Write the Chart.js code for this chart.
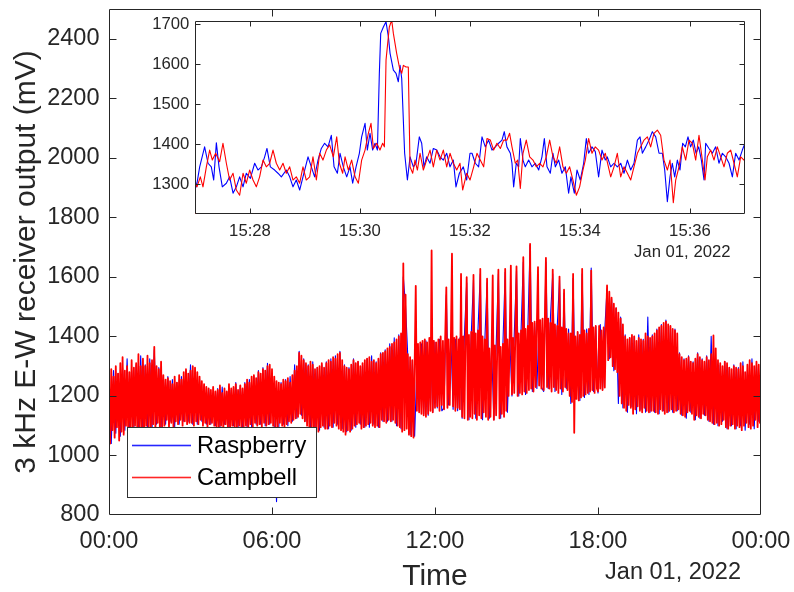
<!DOCTYPE html>
<html><head><meta charset="utf-8">
<script src="https://cdn.jsdelivr.net/npm/chart.js@4.4.1/dist/chart.umd.min.js"></script>
<style>
html,body{margin:0;padding:0;background:#fff;}
#wrap{position:relative;width:794px;height:592px;overflow:hidden;}
#wrap canvas{position:absolute;left:0;top:0;}
</style></head><body>
<div id="wrap"><canvas id="main" width="794" height="592"></canvas><canvas id="inset" width="794" height="592"></canvas></div>
<script>
// ---------------- data ----------------
const seriesNames = ['Raspberry', 'Campbell'];
const dateLabel = 'Jan 01, 2022';
const raspberryStepMinutes = 5;   // Raspberry: one value every 5 min, 00:00 .. 24:00
const campbellStepMinutes = 2.5;  // Campbell: one value every 2.5 min, 00:00 .. 24:00

const raspberryMain = [
 1255,1040,1285,1075,1275,1065,1295,1085,1325,1075,1285,1095,
 1305,1085,1335,1065,1305,1095,1325,1085,1355,1105,1295,1085,
 1265,1105,1265,1115,1255,1095,1245,1105,1265,1115,1285,1115,
 1305,1105,1275,1105,1255,1115,1235,1105,1225,1105,1210,1100,
 1225,1095,1230,1105,1215,1090,1220,1100,1245,1095,1235,1095,
 1245,1095,1255,1095,1265,1105,1285,1105,1295,1100,1310,1105,
 1275,1095,845,1095,1245,1105,1255,1100,1265,1115,1305,1125,
 1350,1135,1325,1115,1305,1095,1315,1090,1295,1085,1305,1095,
 1315,1090,1325,1095,1335,1105,1350,1090,1305,1080,1295,1085,
 1325,1095,1315,1105,1305,1095,1325,1095,1335,1105,1315,1095,
 1345,1115,1355,1115,1375,1115,1395,1100,1405,1090,1600,1500,
 1330,1070,1320,1065,1300,1150,1375,1140,1385,1135,1390,1145,
 1380,1160,1390,1150,1160,1540,1170,1395,1155,1390,1150,1395,
 1125,1405,1580,1120,1405,1590,1125,1425,1610,1120,1385,1580,
 1125,1360,1120,1365,1610,1125,1375,1615,1145,1395,1200,1405,
 1620,1200,1415,1650,1205,1425,1706,1215,1445,1225,1455,1230,
 1215,1650,1225,1465,1610,1215,1435,1590,1205,1545,1225,1425,
 1175,1595,1190,1415,1185,1610,1195,1425,1205,1630,1215,1435,
 1210,1440,1220,1425,1560,1325,1525,1285,1495,1175,1465,1160,
 1405,1145,1395,1165,1400,1140,1405,1155,1390,1145,1465,1145,
 1405,1145,1425,1140,1440,1150,1455,1145,1435,1145,1425,1150,
 1345,1135,1325,1125,1335,1145,1315,1120,1345,1125,1325,1135,
 1335,1115,1400,1105,1325,1100,1305,1115,1315,1090,1295,1100,
 1305,1090,1295,1100,1315,1085,1285,1105,1325,1090,1305,1115,
 1315
];

const campbellMain = [
 1250,1040,1290,1085,1265,1060,1300,1095,1275,1050,1310,1080,1330,1070,1285,1100,1300,1065,1280,1090,1320,1075,1295,1100,
 1310,1080,1340,1065,1300,1095,1325,1060,1300,1100,1335,1085,1310,1090,1320,1105,1365,1085,1300,1110,1290,1080,1315,1095,
 1270,1100,1255,1120,1260,1095,1250,1110,1240,1090,1265,1115,1245,1105,1270,1120,1255,1100,1280,1115,1290,1105,1275,1110,
 1285,1110,1300,1100,1295,1115,1280,1105,1265,1120,1250,1100,1240,1110,1230,1095,1225,1105,1220,1110,1230,1100,1215,1095,
 1220,1090,1235,1100,1210,1085,1225,1105,1215,1095,1240,1090,1225,1100,1230,1085,1240,1095,1220,1100,1235,1090,1225,1095,
 1240,1100,1255,1090,1245,1105,1265,1095,1270,1110,1260,1100,1280,1105,1275,1095,1290,1110,1285,1100,1300,1105,1305,1110,
 1290,1100,1265,1095,1250,1090,1245,1110,1240,1100,1255,1095,1250,1105,1260,1115,1245,1110,1270,1120,1285,1125,1300,1130,
 1345,1140,1335,1125,1320,1115,1310,1100,1300,1095,1315,1085,1305,1080,1290,1090,1295,1080,1300,1095,1310,1100,1295,1090,
 1310,1090,1320,1100,1315,1095,1330,1110,1325,1100,1340,1090,1345,1085,1320,1080,1300,1070,1295,1085,1290,1080,1305,1090,
 1320,1100,1310,1105,1315,1110,1300,1090,1310,1095,1320,1100,1325,1105,1330,1110,1315,1100,1320,1095,1310,1100,1325,1095,
 1340,1120,1345,1115,1350,1110,1360,1120,1365,1115,1375,1120,1380,1110,1390,1100,1400,1095,1410,1080,1645,1085,1540,1090,
 1340,1070,1330,1065,1320,1060,1300,1570,1150,1375,1145,1380,1140,1385,1135,1390,1130,1380,1140,1395,1150,1689,1145,1385,
 1160,1380,1165,1390,1150,1400,1170,1385,1155,1395,1565,1160,1390,1170,1385,1678,1165,1395,1150,1400,1160,1390,1155,1610,
 1130,1400,1125,1410,1599,1120,1405,1130,1415,1125,1607,1140,1410,1120,1420,1135,1627,1125,1400,1145,1390,1130,1594,1120,
 1360,1130,1350,1605,1120,1370,1135,1355,1624,1125,1365,1140,1375,1130,1627,1150,1390,1200,1400,1638,1205,1395,1210,1405,
 1635,1200,1410,1210,1420,1205,1666,1215,1425,1210,1435,1220,1711,1225,1445,1215,1450,1230,1440,1633,1235,1455,1225,1460,
 1220,1450,1664,1230,1460,1225,1445,1215,1624,1230,1440,1220,1435,1210,1601,1225,1430,1215,1557,1230,1425,1220,1410,1200,
 1410,1180,1610,1076,1400,1190,1415,1185,1405,1195,1627,1200,1420,1205,1410,1210,1425,1215,1621,1220,1430,1210,1435,1225,
 1215,1435,1225,1420,1220,1430,1228,1425,1571,1320,1550,1330,1530,1300,1510,1290,1495,1280,1480,1200,1460,1175,1440,1160,
 1400,1150,1390,1170,1395,1160,1405,1140,1400,1155,1385,1165,1395,1150,1390,1145,1385,1160,1410,1150,1400,1145,1395,1150,
 1400,1150,1410,1145,1420,1140,1430,1155,1435,1150,1445,1140,1450,1145,1440,1150,1435,1155,1425,1145,1420,1150,1410,1155,
 1340,1140,1330,1135,1320,1130,1325,1145,1330,1150,1315,1140,1310,1120,1325,1135,1340,1130,1330,1125,1320,1140,1315,1135,
 1330,1120,1320,1115,1340,1110,1403,1105,1360,1110,1320,1100,1310,1105,1300,1120,1315,1095,1310,1090,1295,1100,1290,1105,
 1300,1090,1295,1100,1290,1095,1310,1085,1300,1100,1280,1110,1305,1095,1320,1090,1310,1100,1300,1120,1315,1095,1305,1110,
 1310
];

const mainXTicks = [0, 6, 12, 18, 24];            // hours
const mainXTickLabels = ['00:00', '06:00', '12:00', '18:00', '00:00'];
const mainYTicks = [800, 1000, 1200, 1400, 1600, 1800, 2000, 2200, 2400];

// inset: seconds after 15:27:00
const insetRaspberryT = [
 0,1.5,5.1,10.5,14.2,17.8,20.4,23.3,26.2,29.8,34.2,37.8,41.5,45.1,48.7,52.4,56.0,60.4,65.1,68.7,
 72.4,76.0,78.5,82.2,86.9,90.5,94.2,99.6,103.3,106.9,110.5,114.2,117.8,123.3,126.9,130.5,134.2,137.8,141.4,145.1,
 148.7,151.7,155.3,158.2,161.8,165.5,169.1,172.0,175.7,179.3,181.8,185.5,188.0,190.9,193.8,196.4,199.0,201.1,202.6,205.5,
 208.4,211.0,212.8,216.4,219.3,221.8,223.7,225.5,228.7,231.7,234.6,238.2,241.1,244.7,247.3,249.8,252.7,256.4,260.0,263.7,
 267.3,270.9,274.6,278.2,281.8,284.7,288.4,292.7,296.4,300.0,302.2,305.8,309.4,313.1,316.7,320.3,324.0,327.6,331.2,334.9,
 337.4,340.3,344.0,345.8,347.6,350.5,353.1,354.9,357.8,360.3,364.0,367.6,371.2,374.9,378.5,381.1,384.0,387.6,390.5,393.1,
 396.7,400.3,404.0,407.6,410.1,413.8,416.7,420.3,424.0,426.9,429.4,433.1,436.7,440.3,444.0,447.6,449.8,453.5,457.1,460.7,
 464.4,468.0,471.7,475.3,478.9,482.6,485.5,488.0,491.7,495.3,498.9,502.6,506.2,509.8,512.4,515.3,518.2,520.7,523.3,526.2,
 529.1,532.0,534.9,537.8,540.7,543.6,546.6,549.5,552.4,555.3,557.1,560.7,564.4,568.0,571.6,575.3,578.9,582.6,586.2,589.8,
 593.5,597.1,600
];
const insetRaspberryV = [
 1312,1293,1343,1393,1352,1343,1310,1403,1343,1293,1302,1318,1277,1293,1318,1293,1327,1314,1352,1335,
 1343,1368,1389,1343,1335,1327,1318,1335,1318,1293,1310,1285,1318,1368,1343,1318,1360,1389,1402,1393,
 1422,1343,1327,1377,1343,1318,1343,1302,1343,1377,1418,1452,1385,1427,1385,1402,1385,1577,1677,1693,
 1706,1668,1627,1585,1577,1556,1597,1564,1377,1310,1368,1343,1352,1418,1402,1343,1368,1352,1389,1385,
 1368,1360,1377,1343,1360,1293,1327,1343,1310,1377,1377,1352,1343,1418,1393,1410,1385,1393,1402,1410,
 1431,1393,1377,1352,1293,1352,1343,1414,1360,1343,1360,1343,1352,1335,1368,1414,1343,1327,1377,1343,
 1360,1327,1343,1277,1318,1277,1335,1310,1352,1414,1377,1393,1381,1318,1385,1360,1368,1343,1352,1343,
 1352,1327,1360,1335,1352,1410,1418,1377,1393,1410,1431,1418,1377,1377,1335,1256,1318,1352,1318,1360,
 1335,1402,1393,1418,1393,1410,1377,1393,1360,1310,1402,1389,1377,1393,1352,1377,1368,1352,1318,1377,
 1360,1385,1402
];
const insetCampbellT = [
 0,0.5,2.2,5.8,8.7,12.4,16.0,18.9,22.5,26.9,30.5,34.2,37.8,41.5,45.1,48.7,52.4,56.0,59.6,63.3,
 66.9,70.5,74.2,77.8,81.5,85.1,88.7,92.4,96.0,99.6,103.3,106.9,110.5,114.2,117.8,121.4,125.1,128.7,132.4,136.0,
 139.6,143.3,146.9,150.9,154.6,157.5,161.1,163.7,167.3,170.9,174.6,178.2,181.8,185.5,189.1,192.0,194.6,198.2,201.8,204.7,
 206.6,208.4,212.0,214.6,216.4,220.0,222.9,225.5,227.3,230.2,232.7,234.6,237.5,240.0,242.6,245.5,249.1,252.7,256.4,260.0,
 263.7,267.3,270.9,274.6,278.2,281.8,285.5,289.1,292.0,296.4,300.0,304.0,307.6,311.2,314.9,318.5,322.2,325.8,329.4,333.1,
 336.7,340.3,343.2,345.8,349.4,352.0,354.9,357.8,361.4,365.1,368.7,372.3,376.0,379.6,383.2,386.9,390.5,394.1,397.8,401.4,
 405.1,408.7,412.3,416.0,419.6,423.2,425.8,429.4,433.1,436.7,440.3,444.0,447.6,453.5,457.1,460.7,464.4,468.0,471.7,475.3,
 478.9,482.6,486.2,489.8,493.5,497.1,500.7,504.4,508.0,511.6,515.3,518.2,521.8,524.4,528.0,531.6,535.3,538.9,542.6,546.2,
 549.8,553.5,556.4,558.9,562.6,566.2,569.8,573.5,577.1,580.7,584.4,588.0,591.6,595.3,598.9,600
];
const insetCampbellV = [
 1227,1302,1293,1318,1293,1343,1385,1360,1377,1356,1402,1352,1310,1327,1285,1272,1327,1302,1335,1310,
 1293,1318,1360,1343,1352,1385,1352,1335,1352,1327,1343,1310,1318,1302,1343,1310,1318,1368,1310,1377,
 1360,1385,1398,1368,1418,1352,1327,1368,1335,1360,1318,1302,1360,1385,1427,1452,1389,1402,1385,1402,
 1393,1610,1693,1710,1677,1627,1593,1577,1597,1593,1593,1343,1327,1360,1335,1377,1335,1360,1385,1343,
 1385,1360,1385,1343,1377,1352,1335,1352,1285,1327,1310,1343,1377,1360,1343,1414,1410,1385,1402,1389,
 1410,1410,1427,1393,1352,1360,1289,1377,1410,1368,1360,1343,1352,1343,1368,1410,1368,1352,1393,1343,
 1327,1343,1310,1272,1293,1335,1360,1414,1377,1393,1385,1360,1377,1318,1343,1377,1318,1343,1327,1310,
 1343,1377,1393,1410,1418,1393,1427,1435,1422,1360,1335,1360,1253,1310,1343,1393,1360,1410,1402,1360,
 1422,1360,1310,1368,1385,1360,1393,1368,1343,1377,1385,1352,1318,1368,1360,1365
];
const insetXTicks = [60, 180, 300, 420, 540];      // seconds after 15:27
const insetXTickLabels = ['15:28', '15:30', '15:32', '15:34', '15:36'];
const insetYTicks = [1300, 1400, 1500, 1600, 1700];

// ---------------- drawing ----------------
const FONT = '"Liberation Sans", Arial, Helvetica, sans-serif';
const AX = '#262626';
const BLUE = '#0000ff';
const RED = '#ff0000';
const seriesColors = [BLUE, RED];

const matlabAxes = {
  id: 'matlabAxes',
  beforeDatasetsDraw(chart, args, o) {
    if (!o.background) return;
    const {ctx, chartArea: a} = chart;
    ctx.save(); ctx.fillStyle = '#ffffff';
    ctx.fillRect(a.left, a.top, a.right - a.left, a.bottom - a.top);
    ctx.restore();
  },
  afterDraw(chart, args, o) {
    const {ctx, chartArea: a} = chart;
    const xs = chart.scales.x, ys = chart.scales.y;
    const L = Math.round(a.left) + 0.5, R = Math.round(a.right) - 0.5;
    const T = Math.round(a.top) + 0.5, B = Math.round(a.bottom) - 0.5;
    ctx.save();
    ctx.strokeStyle = o.color; ctx.lineWidth = 1;
    ctx.beginPath();
    ctx.rect(L, T, R - L, B - T);
    xs.ticks.forEach(t => {
      const px = Math.round(xs.getPixelForValue(t.value)) + 0.5;
      if (px <= L + 1 || px >= R - 1) return;
      ctx.moveTo(px, B); ctx.lineTo(px, B - o.tick);
      ctx.moveTo(px, T); ctx.lineTo(px, T + o.tick);
    });
    ys.ticks.forEach(t => {
      const py = Math.round(ys.getPixelForValue(t.value)) + 0.5;
      if (py <= T + 1 || py >= B - 1) return;
      ctx.moveTo(L, py); ctx.lineTo(L + o.tick, py);
      ctx.moveTo(R, py); ctx.lineTo(R - o.tick, py);
    });
    ctx.stroke();

    // date label under the time axis
    ctx.fillStyle = o.color;
    ctx.font = o.dateFont + 'px ' + FONT;
    ctx.textAlign = 'right'; ctx.textBaseline = 'middle';
    ctx.fillText(dateLabel, a.right - o.dateDx, a.bottom + o.dateDy);

    // legend box
    if (o.legend) {
      const bx = Math.round(a.left) + 18, by = Math.round(a.bottom) - 88;
      const bw = 189, bh = 70;
      ctx.fillStyle = '#ffffff';
      ctx.fillRect(bx, by, bw, bh);
      ctx.strokeStyle = '#303030'; ctx.lineWidth = 1;
      ctx.strokeRect(bx + 0.5, by + 0.5, bw, bh);
      const rows = [by + 18, by + 50];
      ctx.font = '23.7px ' + FONT;
      ctx.textAlign = 'left'; ctx.textBaseline = 'middle';
      seriesNames.forEach((name, i) => {
        ctx.globalAlpha = 0.85;
        ctx.fillStyle = seriesColors[i];
        ctx.fillRect(bx + 5, rows[i] - 0.3, 59, 1.6);
        ctx.globalAlpha = 1;
        ctx.fillStyle = '#000000';
        ctx.fillText(name, bx + 70, rows[i] + 1.5);
      });
    }
    ctx.restore();
  }
};

function fixSize(w, h) {
  return function (s) {
    if (w !== null) s.width = w;
    if (h !== null) s.height = h;
    s.paddingLeft = 0; s.paddingRight = 0; s.paddingTop = 0; s.paddingBottom = 0;
  };
}

const stepData = (arr, stepMin) => arr.map((v, i) => ({x: i * stepMin / 60, y: v}));
const pairData = (ts, vs) => ts.map((t, i) => ({x: t, y: vs[i]}));

new Chart(document.getElementById('main'), {
  type: 'line',
  data: {
    datasets: [
      {label: seriesNames[0], data: stepData(raspberryMain, raspberryStepMinutes), borderColor: BLUE, borderWidth: 1.1,
       pointRadius: 0, borderJoinStyle: 'round', order: 1},
      {label: seriesNames[1], data: stepData(campbellMain, campbellStepMinutes), borderColor: RED, borderWidth: 1.8,
       pointRadius: 0, borderJoinStyle: 'round', order: 0}
    ]
  },
  options: {
    responsive: false, animation: false, devicePixelRatio: 1,
    layout: {padding: {left: 0, top: 9, right: 33, bottom: 0}},
    plugins: {
      legend: {display: false}, tooltip: {enabled: false},
      matlabAxes: {color: AX, tick: 7, legend: true, background: false, dateFont: 23.5, dateDx: 20, dateDy: 58}
    },
    scales: {
      x: {
        type: 'linear', min: 0, max: 24,
        grid: {display: false, drawTicks: false}, border: {display: false},
        afterFit: fixSize(null, 77),
        afterBuildTicks: (s) => { s.ticks = mainXTicks.map(v => ({value: v})); },
        ticks: {autoSkip: false, maxRotation: 0, padding: 12, color: AX,
                font: {family: FONT, size: 23.5},
                callback: (v, i) => mainXTickLabels[i]},
        title: {display: true, text: 'Time', color: AX, font: {family: FONT, size: 30, lineHeight: 1},
                padding: {top: 0, bottom: 0.5}}
      },
      y: {
        type: 'linear', min: 800, max: 2500,
        grid: {display: false, drawTicks: false}, border: {display: false},
        afterFit: fixSize(109, null),
        afterBuildTicks: (s) => { s.ticks = mainYTicks.map(v => ({value: v})); },
        ticks: {autoSkip: false, padding: 9.5, color: AX, font: {family: FONT, size: 23.5},
                callback: (v) => String(v)},
        title: {display: true, text: '3 kHz E-W receiver output (mV)', color: AX,
                font: {family: FONT, size: 30}, padding: {top: 9, bottom: 0}}
      }
    }
  },
  plugins: [matlabAxes]
});

new Chart(document.getElementById('inset'), {
  type: 'line',
  data: {
    datasets: [
      {label: seriesNames[0], data: pairData(insetRaspberryT, insetRaspberryV), borderColor: BLUE,
       borderWidth: 1.1, pointRadius: 0, borderJoinStyle: 'round', order: 1},
      {label: seriesNames[1], data: pairData(insetCampbellT, insetCampbellV), borderColor: RED,
       borderWidth: 1.1, pointRadius: 0, borderJoinStyle: 'round', order: 0}
    ]
  },
  options: {
    responsive: false, animation: false, devicePixelRatio: 1,
    layout: {padding: {left: 0, top: 21, right: 49, bottom: 338}},
    plugins: {
      legend: {display: false}, tooltip: {enabled: false},
      matlabAxes: {color: AX, tick: 5, legend: false, background: true, dateFont: 16.7, dateDx: 14.5, dateDy: 38}
    },
    scales: {
      x: {
        type: 'linear', min: 0, max: 600,
        grid: {display: false, drawTicks: false}, border: {display: false},
        afterFit: fixSize(null, 40),
        afterBuildTicks: (s) => { s.ticks = insetXTicks.map(v => ({value: v})); },
        ticks: {autoSkip: false, maxRotation: 0, padding: 7.5, color: AX,
                font: {family: FONT, size: 16.7},
                callback: (v, i) => insetXTickLabels[i]}
      },
      y: {
        type: 'linear', min: 1225, max: 1708,
        grid: {display: false, drawTicks: false}, border: {display: false},
        afterFit: fixSize(195, null),
        afterBuildTicks: (s) => { s.ticks = insetYTicks.map(v => ({value: v})); },
        ticks: {autoSkip: false, padding: 5.7, color: AX, font: {family: FONT, size: 16.7},
                callback: (v) => String(v)}
      }
    }
  },
  plugins: [matlabAxes]
});
</script>
</body></html>
